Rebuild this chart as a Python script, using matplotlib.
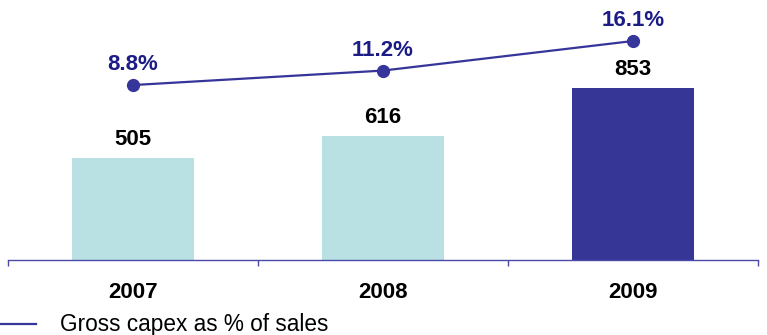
import matplotlib
matplotlib.use("Agg")
import matplotlib.pyplot as plt
from matplotlib.lines import Line2D

plt.rcParams["font.family"] = ["Liberation Sans", "DejaVu Sans"]

years = ["2007", "2008", "2009"]
gross_capex = [505, 616, 853]
capex_pct_sales = [8.8, 11.2, 16.1]
legend_label = "Gross capex as % of sales"

BAR_COLORS = ["#b9e0e3", "#b9e0e3", "#363697"]
LINE_COLOR = "#35359a"
PCT_TEXT = "#1c1c86"
AXIS_COLOR = "#4a4aa8"

W, H = 767, 335
fig = plt.figure(figsize=(W / 100, H / 100), dpi=100)
ax = fig.add_axes([8 / W, 75 / H, 750 / W, 260 / H])

x = list(range(len(years)))
ax.bar(x, gross_capex, width=0.49, color=BAR_COLORS)
ax.set_xlim(-0.5, len(years) - 0.5)
ax.set_ylim(0, 1293)

for xi, v in zip(x, gross_capex):
    ax.annotate(f"{v}", (xi, v), xytext=(0, 6), textcoords="offset points",
                ha="center", va="bottom", fontsize=16, fontweight="bold", color="black")

# category labels below the axis line
for xi, yr in zip(x, years):
    ax.annotate(yr, (xi, 0), xycoords=("data", "axes fraction"), xytext=(0, -23.5),
                textcoords="offset points", ha="center", va="center",
                fontsize=16, fontweight="bold", color="black")

for side in ("top", "left", "right"):
    ax.spines[side].set_visible(False)
ax.spines["bottom"].set_color(AXIS_COLOR)
ax.spines["bottom"].set_linewidth(1.0)
ax.set_yticks([])
ax.set_xticks([i - 0.5 for i in range(len(years) + 1)])
ax.set_xticklabels([])
ax.tick_params(axis="x", direction="out", length=4.5, width=1.0, color=AXIS_COLOR)

# percentage line on its own scale
ax2 = ax.twinx()
ax2.set_ylim(-20.2, 22.9)
ax2.plot(x, capex_pct_sales, color=LINE_COLOR, lw=1.6, marker="o", markersize=8.5)
for xi, p in zip(x, capex_pct_sales):
    ax2.annotate(f"{p:.1f}%", (xi, p), xytext=(0, 7), textcoords="offset points",
                 ha="center", va="bottom", fontsize=16, fontweight="bold", color=PCT_TEXT)
ax2.set_axis_off()

# legend entry at the bottom left
fig.add_artist(Line2D([0, 36 / W], [11 / H, 11 / H], color=LINE_COLOR, lw=1.6,
                      transform=fig.transFigure))
fig.text(60 / W, 11 / H, legend_label, ha="left", va="center", fontsize=16.3, color="black")

fig.savefig("out.png", dpi=100)
